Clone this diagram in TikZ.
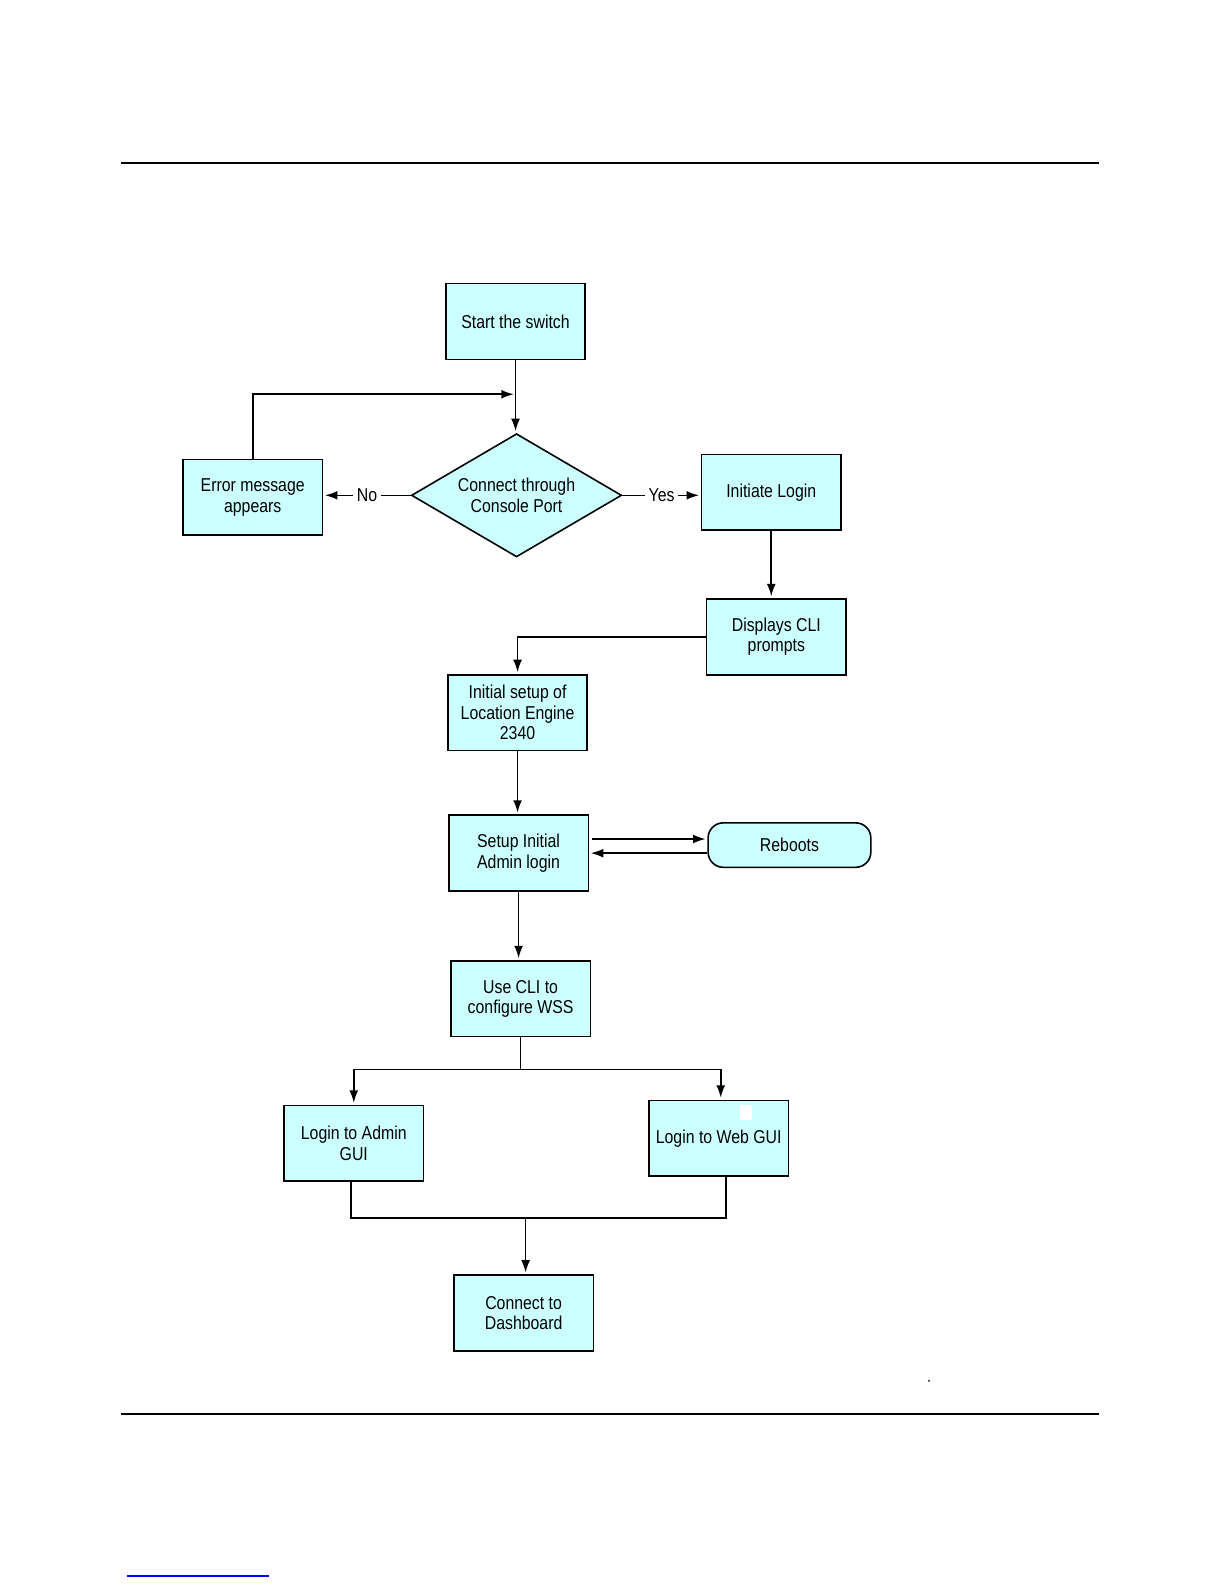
\documentclass[tikz,border=0pt]{standalone}
\usepackage{fontspec}
\setmainfont{Liberation Sans}[FakeStretch=0.85]
\usetikzlibrary{arrows.meta, positioning, shapes.geometric}
\definecolor{boxcyan}{HTML}{CCFFFF}

\begin{document}
\begin{tikzpicture}[x=0.02cm, y=-0.02cm]
\tikzset{
  procbox/.style={draw, fill=boxcyan, line width=0.9pt, minimum width=2.76cm,
    minimum height=1.5cm, inner sep=0pt, align=center, font=\fontsize{10.5}{11.5}\selectfont},
  decide/.style={diamond, draw, fill=boxcyan, line width=0.9pt, aspect=1.7,
    minimum width=4.16cm, minimum height=2.44cm, inner sep=0pt, align=center,
    font=\fontsize{10.5}{11.5}\selectfont},
  rebootbox/.style={draw, fill=boxcyan, line width=0.9pt, rounded corners=0.3cm,
    minimum width=3.22cm, minimum height=0.88cm, font=\fontsize{10.5}{11.5}\selectfont},
  flow/.style={line width=0.9pt, -{Latex[length=7pt,width=5pt]}, shorten >=1pt},
  plain/.style={line width=0.9pt},
  lbl/.style={fill=white, inner sep=2pt, font=\fontsize{10.5}{11.5}\selectfont}
}
\useasboundingbox (0,0) rectangle (1212,1568);

% page rules
\draw[line width=1.1pt] (120,161) -- (1087,161);
\draw[line width=1.1pt] (120,1399) -- (1087,1399);
\draw[blue, line width=0.9pt] (126,1559) -- (266,1559);
\fill (919,1366) circle [radius=1];

% nodes
\node[procbox] (start) at (510,318) {Start the switch};
\coordinate (merge) at (510,390);
\node[decide] (dia) at (511,490) {Connect through\\Console Port};
\node[procbox] (err) at (250,492) {Error message\\appears};
\node[procbox] (init) at (763,487) {Initiate Login};
\node[procbox] (disp) at (768,630) {Displays CLI\\prompts};
\node[procbox] (ini) at (512,705) {Initial setup of\\Location Engine\\2340};
\node[procbox] (adm) at (513,844) {Setup Initial\\Admin login};
\node[rebootbox] (rb) at (781,836) {Reboots};
\node[procbox] (cli) at (515,988) {Use CLI to\\configure WSS};
\coordinate (split) at (515,1058);
\node[procbox] (gadm) at (350,1131) {Login to Admin\\GUI};
\node[procbox] (gweb) at (711,1126) {Login to Web GUI};
\coordinate (join) at (520,1205);
\node[procbox] (dash) at (518,1299) {Connect to\\Dashboard};

\fill[white] (732,1093) rectangle (744,1108);

% connectors
\draw[plain] (start) -- (merge);
\draw[flow] (merge) -- (merge |- dia.north);
\draw[flow] (err.north) |- (merge);
\draw[flow] (dia.west) -- node[lbl] {No} (dia.west -| err.east);
\draw[flow] (dia.east) -- node[lbl] {Yes} (dia.east -| init.west);
\draw[flow] (init.south) -- (init.south |- disp.north);
\draw[flow] (disp.west) -| (ini.north);
\draw[flow] (ini) -- (ini |- adm.north);
\draw[flow] ([xshift=0.06cm,yshift=0.28cm]adm.east) -- ([yshift=0.28cm]adm.east -| rb.west);
\draw[flow] (rb.west |- adm.east) -- (adm.east);
\draw[flow] (adm) -- (adm |- cli.north);
\draw[plain] (cli) -- (split);
\draw[flow] (split) -| (gadm.north);
\draw[flow] (split) -| ([xshift=0.04cm]gweb.north);
\draw[plain] ([xshift=-0.06cm]gadm.south) |- (join) -| ([xshift=0.14cm]gweb.south);
\draw[flow] (join) -- (join |- dash.north);
\end{tikzpicture}
\end{document}
